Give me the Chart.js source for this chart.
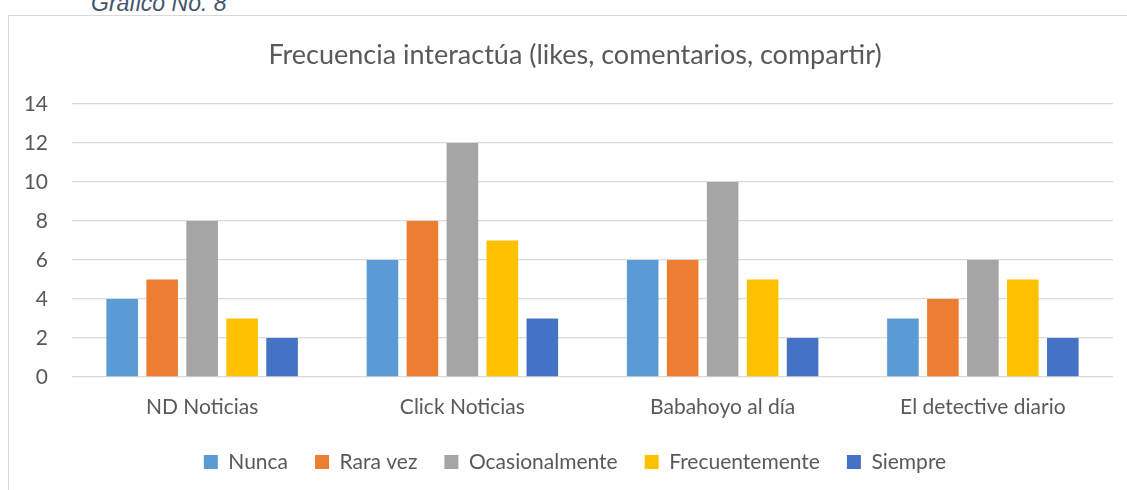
<!DOCTYPE html>
<html>
<head>
<meta charset="utf-8">
<script src="https://cdn.jsdelivr.net/npm/chart.js@4/dist/chart.umd.min.js"></script>
<style>
  body { margin: 0; background: #fff; overflow: hidden; }
  #caption {
    position: absolute; left: 91px; top: -10px; line-height: 23px;
    font: italic 23px "Liberation Sans", Arial, sans-serif; color: #44546a;
  }
  #box {
    position: absolute; left: 8px; top: 15px; width: 1140px; height: 500px;
    border-left: 1px solid #d9d9d9; border-top: 1px solid #d9d9d9;
  }
  #wrap { position: absolute; left: 0; top: 0; width: 1132px; height: 500px; }
</style>
</head>
<body>
<div id="caption">Gráfico No. 8</div>
<div id="box"><div id="wrap"><canvas id="chart"></canvas></div></div>
<script>
const categories = ["ND Noticias", "Click Noticias", "Babahoyo al día", "El detective diario"];
const seriesNames = ["Nunca", "Rara vez", "Ocasionalmente", "Frecuentemente", "Siempre"];
const nunca = [4, 6, 6, 3];
const raraVez = [5, 8, 6, 4];
const ocasionalmente = [8, 12, 10, 6];
const frecuentemente = [3, 7, 5, 5];
const siempre = [2, 3, 2, 2];
const colors = ["#5B9BD5", "#ED7D31", "#A5A5A5", "#FFC000", "#4472C4"];
const yTicks = [0, 2, 4, 6, 8, 10, 12, 14];

const font = "Lato, 'Open Sans', sans-serif";
const values = [nunca, raraVez, ocasionalmente, frecuentemente, siempre];

new Chart(document.getElementById("chart"), {
  type: "bar",
  data: {
    labels: categories,
    datasets: seriesNames.map((name, i) => ({
      label: name,
      data: values[i],
      backgroundColor: colors[i],
      barPercentage: 0.79,
      categoryPercentage: 0.768
    }))
  },
  options: {
    responsive: true,
    maintainAspectRatio: false,
    animation: false,
    layout: { padding: { top: 0, right: 0, bottom: 33.5, left: 0 } },
    plugins: {
      title: {
        display: true,
        text: "Frecuencia interactúa (likes, comentarios, compartir)",
        color: "#595959",
        font: { family: font, size: 27, weight: "normal" },
        padding: { top: 23, bottom: 32.6 }
      },
      legend: {
        position: "bottom",
        labels: {
          color: "#595959",
          font: { family: font, size: 21 },
          boxWidth: 14, boxHeight: 14,
          padding: 27
        }
      },
      tooltip: { enabled: false }
    },
    scales: {
      x: {
        afterFit: axis => { axis.height = 47.5; },
        grid: { display: false, drawTicks: false },
        border: { display: false },
        ticks: { color: "#595959", font: { family: font, size: 21 }, padding: 18 }
      },
      y: {
        min: 0, max: 14,
        afterBuildTicks: axis => { axis.ticks = yTicks.map(v => ({ value: v })); },
        afterFit: axis => { axis.width = 63; },
        grid: { color: "#d9d9d9", lineWidth: 1.3, drawTicks: false },
        border: { display: false },
        ticks: { color: "#595959", font: { family: font, size: 21 }, padding: 24 }
      },
      // empty right-hand gutter so the plot ends where the reference does
      gutter: {
        type: "linear", position: "right",
        afterFit: axis => { axis.width = 28; },
        grid: { display: false, drawTicks: false },
        border: { display: false },
        ticks: { display: false }
      }
    }
  }
});
</script>
</body>
</html>
